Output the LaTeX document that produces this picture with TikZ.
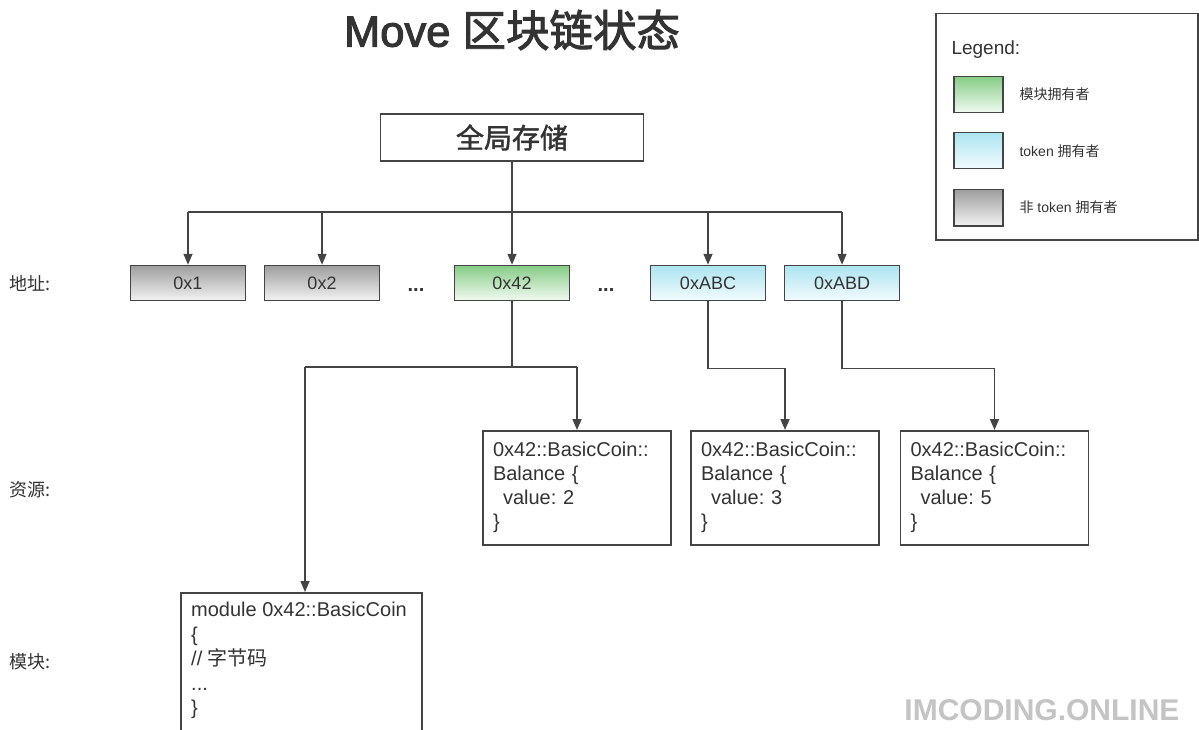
\documentclass[tikz,border=0pt]{standalone}
\usepackage{fontspec}
\setmainfont{Liberation Sans}
\newfontfamily\cjk{Noto Sans CJK SC}
\newfontfamily\titlelat[FakeBold=2.5]{Liberation Sans}
\newfontfamily\titlecjk[FakeBold=2.2]{Noto Sans CJK SC}
\newfontfamily\globcjk[FakeBold=1.6]{Noto Sans CJK SC}
\usetikzlibrary{arrows.meta}
\frenchspacing
\definecolor{bd}{HTML}{444444}
\definecolor{txt}{HTML}{333333}
\definecolor{grayT}{RGB}{158,158,158}
\definecolor{grayB}{RGB}{242,242,242}
\definecolor{greenT}{RGB}{134,204,134}
\definecolor{greenB}{RGB}{242,250,242}
\definecolor{cyanT}{RGB}{172,228,240}
\definecolor{cyanB}{RGB}{242,251,253}
\definecolor{wm}{RGB}{196,196,196}
\tikzset{
  box/.style={draw=bd, line width=1.5pt, fill=white, inner sep=0pt},
  addr/.style={box, minimum width=115pt, minimum height=35pt, font=\fontsize{18}{20}\selectfont, text=txt},
  ggray/.style={top color=grayT, bottom color=grayB},
  ggreen/.style={top color=greenT, bottom color=greenB},
  gcyan/.style={top color=cyanT, bottom color=cyanB},
  res/.style={box, anchor=north, minimum height=114pt, text width=168pt, inner xsep=10pt, align=left, font=\fontsize{20}{24}\selectfont, text=txt},
  conn/.style={draw=bd, line width=1.5pt},
  arr/.style={conn, -{Triangle[length=11pt,width=9pt]}},
  lbl/.style={font=\cjk\fontsize{18}{20}\selectfont, text=txt, anchor=west},
  swatch/.style={box, minimum width=49pt, minimum height=36pt, anchor=north west},
  leglbl/.style={font=\fontsize{14}{16}\selectfont, text=txt, anchor=west},
  dots/.style={font=\bfseries\fontsize{20}{20}\selectfont, text=txt}
}
\begin{document}
\begin{tikzpicture}[x=1pt,y=-1pt]
\useasboundingbox (0,0) rectangle (1199,730);
\clip (0,0) rectangle (1199,730);
\fill[white] (0,0) rectangle (1199,730);

% title
\node[font=\titlelat\fontsize{43.5}{46}\selectfont, text=txt] (title) at (512,30) {Move {\titlecjk 区块链状态}};

% legend
\node[draw=bd, line width=1.5pt, minimum width=262pt, minimum height=226pt, anchor=north west, inner sep=0pt] (legend) at (935,13) {};
\node[font=\fontsize{19}{20}\selectfont, text=txt, anchor=west] (legt) at (948,50) {Legend:};
\node[swatch, ggreen] (sw1) at (953,76) {};
\node[swatch, gcyan] (sw2) at (953,132) {};
\node[swatch, ggray] (sw3) at (953,189) {};
\node[leglbl] (l1) at (1016,94) {\cjk 模块拥有者};
\node[leglbl] (l2) at (1016,151) {token {\cjk 拥有者}};
\node[leglbl] (l3) at (1016,207) {{\cjk 非} token {\cjk 拥有者}};

% global storage
\node[box, minimum width=263pt, minimum height=47pt, font=\globcjk\fontsize{28}{30}\selectfont, text=txt] (glob) at (512,137.5) {全局存储};

% left labels
\node[lbl] (la) at (6,283) {地址:};
\node[lbl] (lr) at (6,490) {资源:};
\node[lbl] (lm) at (6,662) {模块:};

% addresses
\node[addr, ggray] (a1) at (188,283) {0x1};
\node[addr, ggray] (a2) at (322,283) {0x2};
\node[addr, ggreen] (a42) at (512,283) {0x42};
\node[addr, gcyan] (aABC) at (708,283) {0xABC};
\node[addr, gcyan] (aABD) at (842,283) {0xABD};
\node[dots] (d1) at (416,290) {...};
\node[dots] (d2) at (606,290) {...};

% bus
\coordinate (busC) at (512,212);
\coordinate (busL) at (188,212);
\coordinate (busR) at (842,212);
\draw[conn] (glob.south) -- (busC);
\draw[conn] (busL) -- (busR);
\draw[arr] (busL) -- (a1.north);
\draw[arr] (busL -| a2.north) -- (a2.north);
\draw[arr] (busC) -- (a42.north);
\draw[arr] (busL -| aABC.north) -- (aABC.north);
\draw[arr] (busR) -- (aABD.north);

% resources
\node[res] (r1) at (577,430) {0x42::BasicCoin::\\Balance \{\\\hspace*{10pt}value: 2\\\}};
\node[res] (r2) at (785,430) {0x42::BasicCoin::\\Balance \{\\\hspace*{10pt}value: 3\\\}};
\node[res] (r3) at (994.5,430) {0x42::BasicCoin::\\Balance \{\\\hspace*{10pt}value: 5\\\}};

% module
\node[box, minimum width=241pt, minimum height=170pt, anchor=north] (mod) at (301.5,592) {};
\node[font=\fontsize{20}{24.5}\selectfont, text=txt, align=left, anchor=north west, inner sep=0pt] (modtxt) at (191,602) {module 0x42::BasicCoin\\\{\\// {\cjk 字节码}\\...\\\}};

% connectors from addresses
\coordinate (j42) at (512,367);
\coordinate (jL) at (305,367);
\coordinate (jR) at (577,367);
\draw[conn] (a42.south) -- (j42);
\draw[conn] (jL) -- (jR);
\draw[arr] (jR) -- (r1.north);
\draw[arr] (jL) -- (jL |- mod.north);
\draw[arr] (aABC.south) -- ++(0,67) -| (r2.north);
\draw[arr] (aABD.south) -- ++(0,67) -| (r3.north);

% watermark
\node[font=\bfseries\fontsize{30}{32}\selectfont, text=wm, anchor=east] (wmk) at (1183,710) {IMCODING.ONLINE};
\end{tikzpicture}
\end{document}
